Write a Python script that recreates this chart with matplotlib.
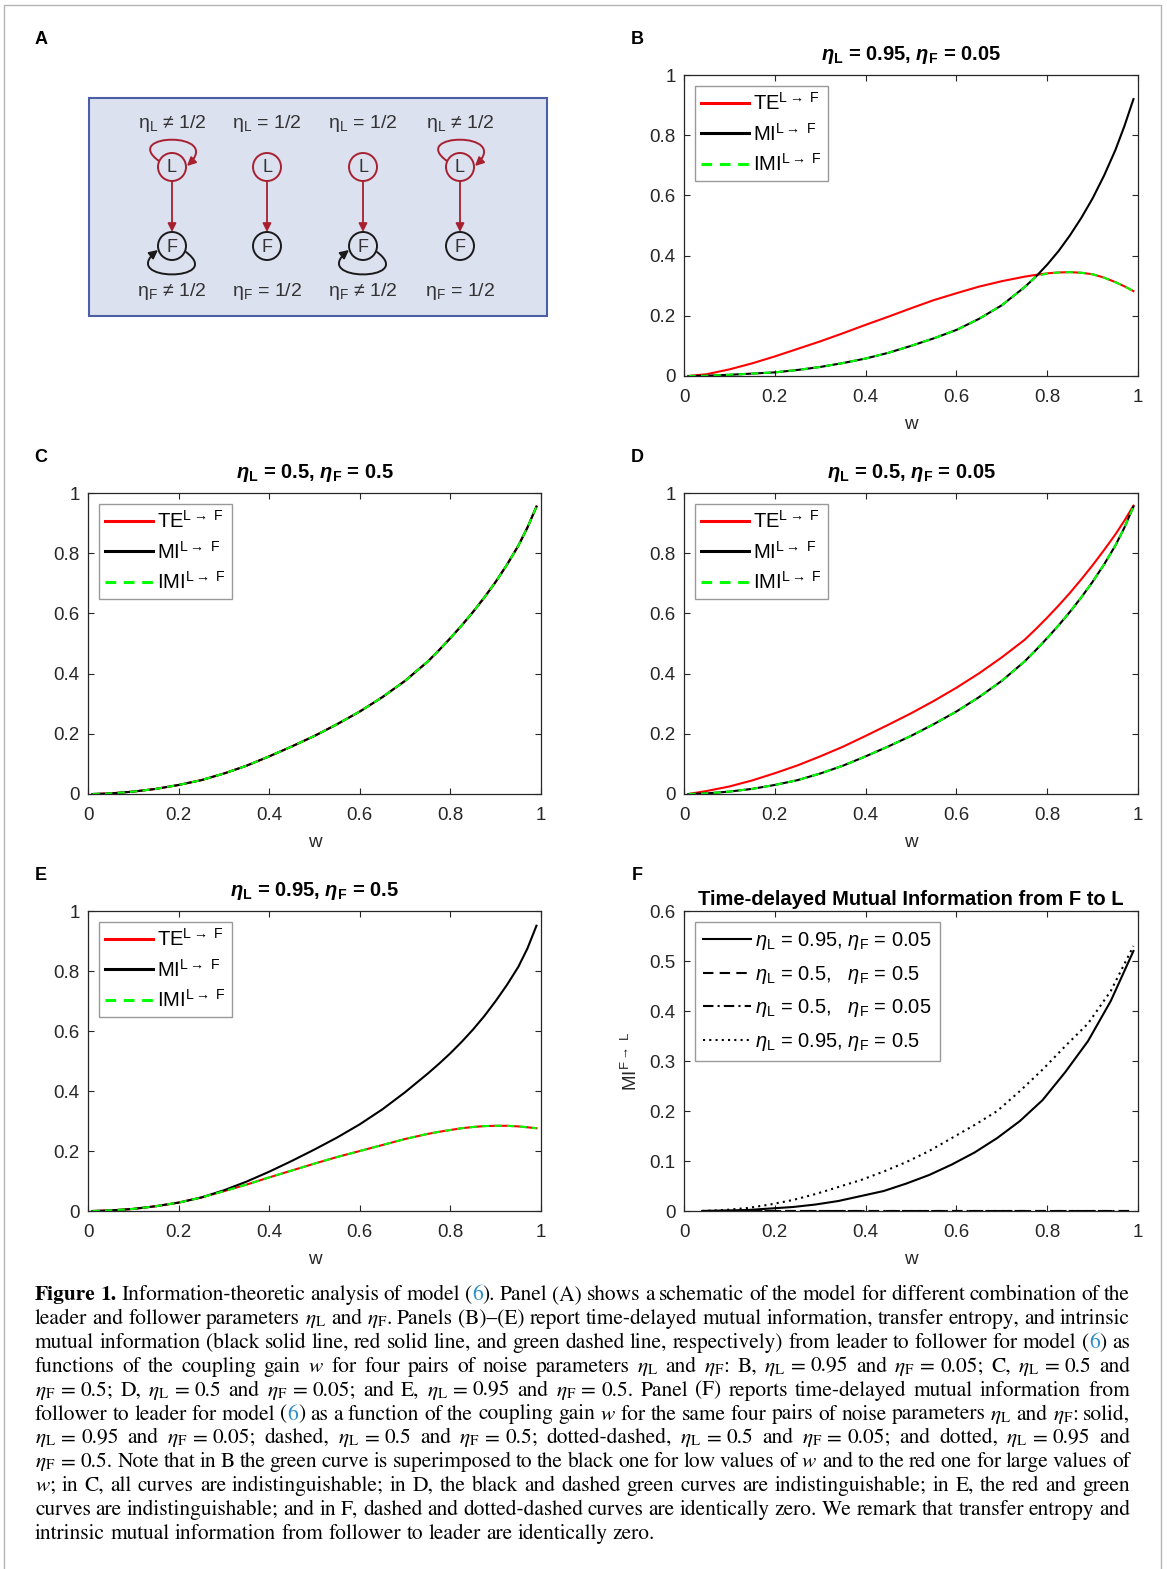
import numpy as np
import matplotlib
matplotlib.use("Agg")
import matplotlib.pyplot as plt
from matplotlib.patches import Rectangle, Circle, FancyArrowPatch
from matplotlib.path import Path

W, H = 1167, 1569

plt.rcParams['font.family'] = ['Liberation Sans', 'DejaVu Sans']
plt.rcParams['mathtext.fontset'] = 'custom'
plt.rcParams['mathtext.rm'] = 'Liberation Sans'
plt.rcParams['mathtext.it'] = 'Liberation Sans:italic'
plt.rcParams['mathtext.bf'] = 'Liberation Sans:bold'
plt.rcParams['mathtext.bfit'] = 'Liberation Sans:italic:bold'

# ---- data ----
w_grid = [0.01, 0.05, 0.10, 0.15, 0.20, 0.25, 0.30, 0.35, 0.40, 0.45, 0.50, 0.55, 0.60,
          0.65, 0.70, 0.75, 0.775, 0.80, 0.825, 0.85, 0.875, 0.90, 0.925, 0.95, 0.97, 0.99]

# B: eta_L = 0.95, eta_F = 0.05
mi_b = [0.000, 0.001, 0.004, 0.008, 0.012, 0.020, 0.030, 0.043, 0.058, 0.077, 0.100, 0.125, 0.153,
        0.190, 0.235, 0.295, 0.330, 0.370, 0.415, 0.467, 0.525, 0.590, 0.665, 0.750, 0.830, 0.920]
te_b = [0.000, 0.006, 0.022, 0.042, 0.065, 0.090, 0.115, 0.142, 0.170, 0.197, 0.225, 0.252, 0.275,
        0.297, 0.315, 0.330, 0.336, 0.341, 0.344, 0.345, 0.343, 0.338, 0.327, 0.312, 0.298, 0.282]
imi_b = [0.000, 0.001, 0.004, 0.008, 0.012, 0.020, 0.030, 0.043, 0.058, 0.077, 0.100, 0.125, 0.153,
         0.190, 0.235, 0.295, 0.330, 0.341, 0.344, 0.345, 0.343, 0.338, 0.327, 0.312, 0.298, 0.282]

# C: eta_L = 0.5, eta_F = 0.5 (all three coincide)
mi_c = [0.000, 0.002, 0.008, 0.017, 0.030, 0.046, 0.068, 0.094, 0.125, 0.158, 0.193, 0.232, 0.274,
        0.322, 0.376, 0.440, 0.478, 0.518, 0.560, 0.605, 0.653, 0.705, 0.762, 0.825, 0.885, 0.955]
te_c = list(mi_c)
imi_c = list(mi_c)

# D: eta_L = 0.5, eta_F = 0.05
mi_d = list(mi_c)
te_d = [0.000, 0.010, 0.025, 0.045, 0.069, 0.095, 0.125, 0.157, 0.193, 0.230, 0.268, 0.309, 0.353,
        0.401, 0.454, 0.512, 0.548, 0.586, 0.626, 0.668, 0.713, 0.760, 0.810, 0.862, 0.908, 0.958]
imi_d = list(mi_c)

# E: eta_L = 0.95, eta_F = 0.5
mi_e = [0.000, 0.002, 0.007, 0.016, 0.028, 0.045, 0.069, 0.098, 0.131, 0.167, 0.205, 0.245, 0.289,
        0.339, 0.396, 0.458, 0.491, 0.526, 0.564, 0.605, 0.650, 0.700, 0.754, 0.814, 0.875, 0.951]
te_e = [0.000, 0.002, 0.007, 0.016, 0.028, 0.045, 0.066, 0.088, 0.112, 0.135, 0.158, 0.180, 0.200,
        0.220, 0.240, 0.257, 0.264, 0.270, 0.276, 0.280, 0.283, 0.284, 0.284, 0.282, 0.279, 0.276]
imi_e = list(te_e)

# F: time-delayed MI from F to L
w_f = [0.04, 0.09, 0.14, 0.19, 0.24, 0.29, 0.34, 0.39, 0.44, 0.49,
       0.54, 0.59, 0.64, 0.69, 0.74, 0.79, 0.84, 0.89, 0.94, 0.99]
mi_f_095_005 = [0.000, 0.001, 0.002, 0.005, 0.008, 0.013, 0.020, 0.030, 0.040, 0.055,
                0.072, 0.093, 0.117, 0.146, 0.180, 0.222, 0.278, 0.340, 0.420, 0.520]
mi_f_05_05 = [0.0] * 20
mi_f_05_005 = [0.0] * 20
mi_f_095_05 = [0.000, 0.002, 0.006, 0.013, 0.022, 0.034, 0.048, 0.062, 0.079, 0.098,
               0.120, 0.146, 0.172, 0.200, 0.240, 0.283, 0.330, 0.375, 0.440, 0.530]

panel_titles = {
    'B': r'$\mathbfit{\eta}_{\mathbf{L}}$ = 0.95, $\mathbfit{\eta}_{\mathbf{F}}$ = 0.05',
    'C': r'$\mathbfit{\eta}_{\mathbf{L}}$ = 0.5, $\mathbfit{\eta}_{\mathbf{F}}$ = 0.5',
    'D': r'$\mathbfit{\eta}_{\mathbf{L}}$ = 0.5, $\mathbfit{\eta}_{\mathbf{F}}$ = 0.05',
    'E': r'$\mathbfit{\eta}_{\mathbf{L}}$ = 0.95, $\mathbfit{\eta}_{\mathbf{F}}$ = 0.5',
}
lf_labels = [r'TE$^{\mathrm{L}\rightarrow\ \mathrm{F}}$',
             r'MI$^{\mathrm{L}\rightarrow\ \mathrm{F}}$',
             r'IMI$^{\mathrm{L}\rightarrow\ \mathrm{F}}$']
f_labels = [r'$\eta_\mathrm{L}$ = 0.95, $\eta_\mathrm{F}$ = 0.05',
            r'$\eta_\mathrm{L}$ = 0.5,   $\eta_\mathrm{F}$ = 0.5',
            r'$\eta_\mathrm{L}$ = 0.5,   $\eta_\mathrm{F}$ = 0.05',
            r'$\eta_\mathrm{L}$ = 0.95, $\eta_\mathrm{F}$ = 0.5']

caption = [
    "*Figure *1. Information-theoretic analysis of model (§6§). Panel (A) shows a schematic of the model for different combination of the",
    r"leader and follower parameters $\eta_\mathrm{L}$ and $\eta_\mathrm{F}$. Panels (B)–(E) report time-delayed mutual information, transfer entropy, and intrinsic",
    "mutual information (black solid line, red solid line, and green dashed line, respectively) from leader to follower for model (§6§) as",
    r"functions of the coupling gain $w$ for four pairs of noise parameters $\eta_\mathrm{L}$ and $\eta_\mathrm{F}$: B, $\eta_\mathrm{L}$ = 0.95 and $\eta_\mathrm{F}$ = 0.05; C, $\eta_\mathrm{L}$ = 0.5 and",
    r"$\eta_\mathrm{F}$ = 0.5; D, $\eta_\mathrm{L}$ = 0.5 and $\eta_\mathrm{F}$ = 0.05; and E, $\eta_\mathrm{L}$ = 0.95 and $\eta_\mathrm{F}$ = 0.5. Panel (F) reports time-delayed mutual information from",
    r"follower to leader for model (§6§) as a function of the coupling gain $w$ for the same four pairs of noise parameters $\eta_\mathrm{L}$ and $\eta_\mathrm{F}$: solid,",
    r"$\eta_\mathrm{L}$ = 0.95 and $\eta_\mathrm{F}$ = 0.05; dashed, $\eta_\mathrm{L}$ = 0.5 and $\eta_\mathrm{F}$ = 0.5; dotted-dashed, $\eta_\mathrm{L}$ = 0.5 and $\eta_\mathrm{F}$ = 0.05; and dotted, $\eta_\mathrm{L}$ = 0.95 and",
    r"$\eta_\mathrm{F}$ = 0.5. Note that in B the green curve is superimposed to the black one for low values of $w$ and to the red one for large values of",
    r"$w$; in C, all curves are indistinguishable; in D, the black and dashed green curves are indistinguishable; in E, the red and green",
    "curves are indistinguishable; and in F, dashed and dotted-dashed curves are identically zero. We remark that transfer entropy and",
    "intrinsic mutual information from follower to leader are identically zero.",
]

TXT = '#262626'
RED_A = '#a8202f'
FS = 13.5     # tick labels
FL = 14.5     # legends / titles


def px_axes(fig, x0, y0, x1, y1):
    return fig.add_axes([x0 / W, 1 - y1 / H, (x1 - x0) / W, (y1 - y0) / H])


def style_axes(ax, ymax, ystep):
    ax.set_xlim(0, 1)
    ax.set_ylim(0, ymax)
    ax.set_xticks(np.arange(0, 1.01, 0.2))
    ax.set_xticklabels(['0', '0.2', '0.4', '0.6', '0.8', '1'])
    yt = np.round(np.arange(0, ymax + 1e-9, ystep), 2)
    ax.set_yticks(yt)
    ax.set_yticklabels(['0' if v == 0 else ('1' if v == 1 else f'{v:g}') for v in yt])
    ax.tick_params(direction='in', top=True, right=True, length=4, width=0.8,
                   labelsize=FS, colors=TXT)
    ax.tick_params(axis='x', pad=9.5)
    ax.tick_params(axis='y', pad=6)
    for sp in ax.spines.values():
        sp.set_color(TXT)
        sp.set_linewidth(0.9)
    ax.set_xlabel('w', fontsize=FS, color=TXT, labelpad=7)


def lf_panel(ax, title, te, mi, imi):
    ax.plot(w_grid, te, color='red', lw=1.5, label=lf_labels[0])
    ax.plot(w_grid, mi, color='black', lw=1.5, label=lf_labels[1])
    ax.plot(w_grid, imi, color='#00ff00', lw=1.5, dashes=(3.5, 2.5), label=lf_labels[2])
    style_axes(ax, 1, 0.2)
    ax.set_title(title, fontsize=FL, fontweight='bold', pad=11)
    leg = ax.legend(loc='upper left', fontsize=FL, frameon=True, fancybox=False,
                    edgecolor='#999999', framealpha=1, borderaxespad=0.55,
                    handlelength=2.4, handletextpad=0.2, labelspacing=0.42,
                    borderpad=0.3)
    leg.get_frame().set_linewidth(1.0)
    for ln in leg.get_lines():
        ln.set_linewidth(2.2)


fig = plt.figure(figsize=(W / 100, H / 100), dpi=100)

bg = fig.add_axes([0, 0, 1, 1])
bg.set_xlim(0, W)
bg.set_ylim(H, 0)
bg.axis('off')

# outer frame
bg.plot([4, 4, 1161, 1161], [H + 5, 5, 5, H + 5], color='#b5b5b5', lw=1.0)

# panel letters
for lab, (x, y) in {'A': (41, 40), 'B': (637, 40), 'C': (41, 458),
                    'D': (637, 458), 'E': (41, 876), 'F': (637, 876)}.items():
    bg.text(x, y, lab, fontsize=13, fontweight='bold', ha='center', va='center')

# ---- panel A schematic ----
bg.add_patch(Rectangle((89, 98), 458, 218, facecolor='#dce1f0', edgecolor='#4b5ea6', lw=1.5))
cols = [172, 267, 363, 460]
top_lbl = [r'η$_\mathrm{L}$ ≠ 1/2', r'η$_\mathrm{L}$ = 1/2', r'η$_\mathrm{L}$ = 1/2', r'η$_\mathrm{L}$ ≠ 1/2']
bot_lbl = [r'η$_\mathrm{F}$ ≠ 1/2', r'η$_\mathrm{F}$ = 1/2', r'η$_\mathrm{F}$ ≠ 1/2', r'η$_\mathrm{F}$ = 1/2']
l_loop = [True, False, False, True]
f_loop = [True, False, True, False]
yl, yf, r = 167, 246, 14
for i, cx in enumerate(cols):
    bg.text(cx, 123, top_lbl[i], fontsize=14, color='#333333', ha='center', va='center')
    bg.text(cx, 292, bot_lbl[i], fontsize=14, color='#333333', ha='center', va='center')
    bg.add_patch(Circle((cx, yl), r, facecolor='none', edgecolor=RED_A, lw=1.4))
    bg.add_patch(Circle((cx, yf), r, facecolor='none', edgecolor='#1a1a1a', lw=1.4))
    bg.text(cx, yl + 1, 'L', fontsize=13, color='#333333', ha='center', va='center')
    bg.text(cx, yf + 1, 'F', fontsize=13, color='#333333', ha='center', va='center')
    bg.add_patch(FancyArrowPatch((cx, yl + r), (cx, yf - r), arrowstyle='-|>,head_length=0.5,head_width=0.25',
                                 mutation_scale=10, color=RED_A, lw=1.3, shrinkA=0, shrinkB=0))
    if l_loop[i]:
        p = Path([(cx - 13, yl - 6), (cx - 52, yl - 34), (cx + 52, yl - 36), (cx + 15, yl - 1)],
                 [Path.MOVETO, Path.CURVE4, Path.CURVE4, Path.CURVE4])
        bg.add_patch(FancyArrowPatch(path=p, arrowstyle='-|>,head_length=0.5,head_width=0.25',
                                     mutation_scale=10, color=RED_A, lw=1.4))
    if f_loop[i]:
        p = Path([(cx + 14, yf + 6), (cx + 54, yf + 36), (cx - 54, yf + 36), (cx - 14, yf + 4)],
                 [Path.MOVETO, Path.CURVE4, Path.CURVE4, Path.CURVE4])
        bg.add_patch(FancyArrowPatch(path=p, arrowstyle='-|>,head_length=0.5,head_width=0.25',
                                     mutation_scale=10, color='#1a1a1a', lw=1.4))

# ---- panels B-E ----
axB = px_axes(fig, 684, 75, 1138, 376)
lf_panel(axB, panel_titles['B'], te_b, mi_b, imi_b)
axC = px_axes(fig, 88, 493, 541, 794)
lf_panel(axC, panel_titles['C'], te_c, mi_c, imi_c)
axD = px_axes(fig, 684, 493, 1138, 794)
lf_panel(axD, panel_titles['D'], te_d, mi_d, imi_d)
axE = px_axes(fig, 88, 911, 541, 1211)
lf_panel(axE, panel_titles['E'], te_e, mi_e, imi_e)

# ---- panel F ----
axF = px_axes(fig, 684, 911, 1138, 1211)
axF.plot(w_f, mi_f_095_005, color='black', lw=1.5, ls='-', label=f_labels[0])
axF.plot(w_f, mi_f_05_05, color='black', lw=1.5, ls=(0, (5, 3)), label=f_labels[1])
axF.plot(w_f, mi_f_05_005, color='black', lw=1.5, ls=(0, (5, 2, 1, 2)), label=f_labels[2])
axF.plot(w_f, mi_f_095_05, color='black', lw=1.5, ls=(0, (1, 2)), label=f_labels[3])
style_axes(axF, 0.6, 0.1)
axF.set_title('Time-delayed Mutual Information from F to L', fontsize=FL,
              fontweight='bold', pad=4)
axF.set_ylabel(r'MI$^{\mathrm{F}\rightarrow\ \mathrm{L}}$', fontsize=FS, color=TXT, labelpad=6)
legF = axF.legend(loc='upper left', fontsize=FL, frameon=True, fancybox=False,
                  edgecolor='#999999', framealpha=1, borderaxespad=0.55,
                  handlelength=2.4, handletextpad=0.2, labelspacing=0.58, borderpad=0.4)
legF.get_frame().set_linewidth(1.0)

# ---- caption, justified word by word ----
renderer = fig.canvas.get_renderer()
x_left, x_right = 35, 1130


def word_segments(word):
    bold = word.startswith('*')
    if bold:
        word = word[1:]
    parts = word.split('§')
    return [(s, '#2a8fc9' if k % 2 == 1 else 'black', bold) for k, s in enumerate(parts) if s]


def cap_text(x, y, s, c, b, size):
    return bg.text(x, y, s, color=c, fontweight='bold' if b else 'normal', fontsize=size,
                   family='STIXGeneral', math_fontfamily='stix', va='baseline')


def measure(segs, size):
    total = 0
    for s, c, b in segs:
        t = cap_text(0, 0, s, c, b, size)
        total += t.get_window_extent(renderer).width
        t.remove()
    return total


def gap_kinds(tokens):
    # gaps next to "=" keep a fixed width, the others stretch
    return [tokens[k] == '=' or tokens[k + 1] == '=' for k in range(len(tokens) - 1)]


# pick one caption size so that the justified lines get normal word spacing
base = 12.0
ratios = []
for line in caption[:-1]:
    words = [word_segments(wd) for wd in line.split(' ')]
    natural = sum(measure(sg, base) for sg in words) + (len(words) - 1) * 0.25 * base * 100 / 72
    ratios.append((x_right - x_left) / natural)
cap_size = base * float(np.median(ratios))
space = 0.25 * cap_size * 100 / 72

for i, line in enumerate(caption):
    y = 1300 + 23.9 * i
    tokens = line.split(' ')
    words = [word_segments(wd) for wd in tokens]
    widths = [measure(sg, cap_size) for sg in words]
    fixed = gap_kinds(tokens)
    n_fixed = sum(fixed)
    n_str = len(fixed) - n_fixed
    if i < len(caption) - 1:
        gap = (x_right - x_left - sum(widths) - n_fixed * space) / max(n_str, 1)
    else:
        gap = space
    gaps = [space if f else gap for f in fixed] + [0]
    x = x_left
    for sg, wd, gp in zip(words, widths, gaps):
        xx = x
        for s, c, b in sg:
            t = cap_text(xx, y, s, c, b, cap_size)
            xx += t.get_window_extent(renderer).width
        x += wd + gp

fig.savefig('out.png', dpi=100)
